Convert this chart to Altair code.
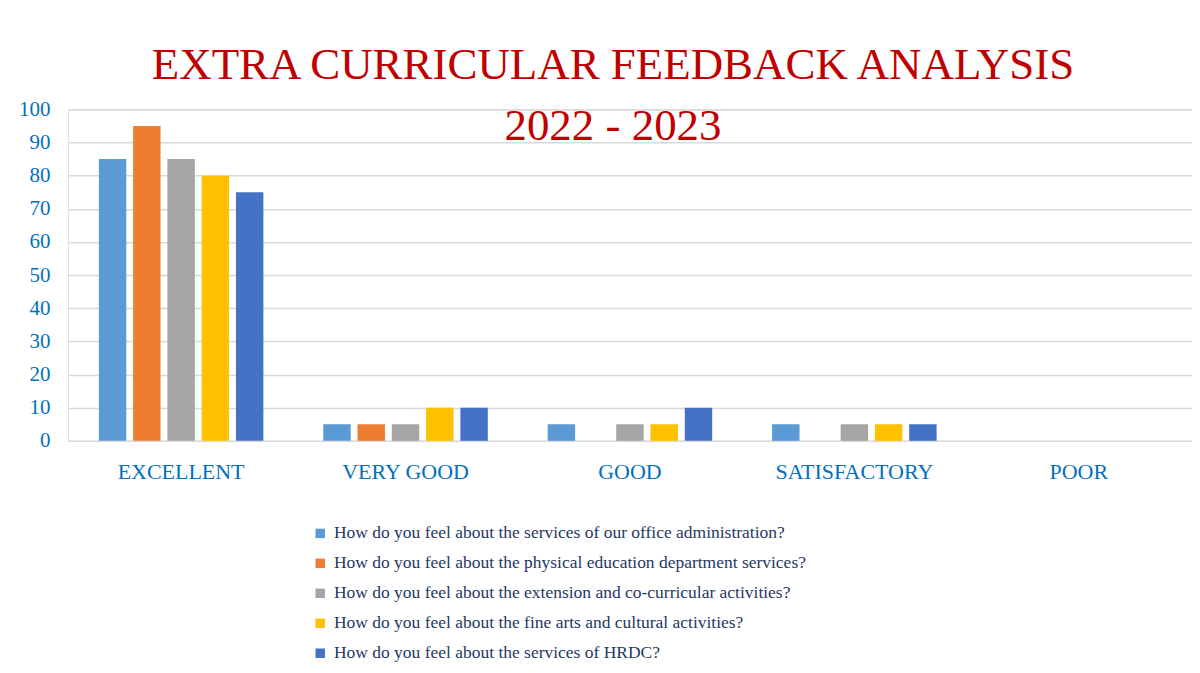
import altair as alt
import pandas as pd

categories = ["EXCELLENT", "VERY GOOD", "GOOD", "SATISFACTORY", "POOR"]
series = [
    "How do you feel about the services of our office administration?",
    "How do you feel about the physical education department services?",
    "How do you feel about the extension and co-curricular activities?",
    "How do you feel about the fine arts and cultural activities?",
    "How do you feel about the services of HRDC?",
]
values = [
    [85, 5, 5, 5, 0],
    [95, 5, 0, 0, 0],
    [85, 5, 5, 5, 0],
    [80, 10, 5, 5, 0],
    [75, 10, 10, 5, 0],
]
colors = ["#5B9BD5", "#ED7D31", "#A5A5A5", "#FFC000", "#4472C4"]
y_ticks = list(range(0, 101, 10))

rows = []
for si, s in enumerate(series):
    for ci, c in enumerate(categories):
        rows.append({"category": c, "series": s, "value": values[si][ci]})
df = pd.DataFrame(rows)

serif = "Liberation Serif"

chart = alt.Chart(df).mark_bar().encode(
    x=alt.X("category:N", sort=categories, title=None,
            scale=alt.Scale(paddingInner=0.267, paddingOuter=0.138),
            axis=alt.Axis(labelAngle=0, labelFont=serif, labelFontSize=22,
                          labelColor="#0070C0", labelPadding=21, ticks=False,
                          domain=False, grid=False)),
    xOffset=alt.XOffset("series:N", sort=series,
                        scale=alt.Scale(paddingInner=0.2, paddingOuter=0)),
    y=alt.Y("value:Q", title=None,
            scale=alt.Scale(domain=[0, 100], nice=False),
            axis=alt.Axis(values=y_ticks, labelFont=serif, labelFontSize=21,
                          labelColor="#0070C0", labelPadding=18, ticks=False,
                          domain=False, gridColor="#D9D9D9", gridWidth=1.5)),
    color=alt.Color("series:N", sort=series,
                    scale=alt.Scale(domain=series, range=colors),
                    legend=alt.Legend(title=None, orient="none", direction="vertical",
                                      legendX=244, legendY=416,
                                      symbolType="square", symbolSize=90,
                                      symbolStrokeWidth=0,
                                      labelFont=serif, labelFontSize=17.5,
                                      labelColor="#1F3864", labelLimit=800,
                                      rowPadding=11, labelOffset=5)),
).properties(
    width=1126,
    height=332,
    title=alt.TitleParams(
        text=["EXTRA CURRICULAR FEEDBACK ANALYSIS", "2022 - 2023"],
        font=serif, fontSize=45, fontWeight="normal", color="#C00000",
        anchor="middle", lineHeight=61, dx=-17, dy=55,
    ),
    autosize=alt.AutoSizeParams(type="none"),
    padding={"left": 60, "top": 101, "right": 0, "bottom": 224},
).configure_view(stroke=None).configure(background="white")

chart.save("out.html", embed_options={"renderer": "svg", "actions": False})
